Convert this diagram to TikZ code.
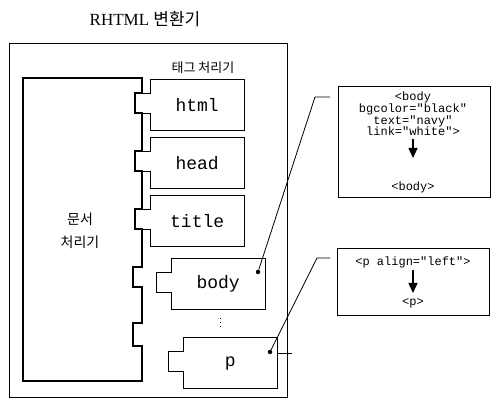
\documentclass[tikz,border=0pt]{standalone}
\usepackage{fontspec}
\setmainfont{Liberation Serif}
\setmonofont{Liberation Mono}
\newfontfamily\kofont{Noto Sans CJK KR}
\usetikzlibrary{arrows.meta,positioning,calc}

% one tag processor: box with a tab on its left side
\newcommand{\tagoutline}[1]{%
  \draw[tagline] ([yshift=-14pt]#1.north west) -- ++(-15pt,0) -- ++(0,-20pt) -- ++(15pt,0)
    -- (#1.south west) -- (#1.south east) -- (#1.north east) -- (#1.north west) -- cycle;}

\begin{document}
\begin{tikzpicture}[
  x=1pt, y=-1pt,
  tagbox/.style={minimum width=94pt, minimum height=50pt, inner sep=0pt, anchor=north west,
    font=\ttfamily\fontsize{18}{18}\selectfont},
  tagline/.style={line width=1pt},
  note/.style={draw, line width=1pt, minimum width=152pt, anchor=north west, inner sep=0pt},
  code/.style={font=\ttfamily\fontsize{12}{11.6}\selectfont, align=center, inner sep=0pt},
  ko/.style={font=\kofont\fontsize{13}{16}\selectfont},
  pin/.style={fill, circle, inner sep=0pt, minimum size=4.5pt},
  convert/.style={line width=1.3pt, -{Triangle[width=9pt,length=10pt]}},
  leader/.style={line width=0.8pt}
]
\useasboundingbox (0,0) rectangle (491,398);

% title and the converter frame
\node[font=\fontsize{17}{17}\selectfont] (title) at (145,19) {RHTML {\kofont 변환기}};
\draw[line width=0.9pt] (9,43) rectangle (287,397);
\node[ko] (taglabel) at (203,68) {태그 처리기};

% document processor with its sockets
\draw[line width=1.4pt] (142,78) -- (23,78) -- (23,381) -- (142,381)
  -- (142,346) -- (133,346) -- (133,323) -- (142,323)
  -- (142,287) -- (133,287) -- (133,267) -- (142,267)
  -- (142,229) -- (135,229) -- (135,209) -- (142,209)
  -- (142,171) -- (135,171) -- (135,151) -- (142,151)
  -- (142,113) -- (135,113) -- (135,93) -- (142,93) -- cycle;
\node[ko, align=center, font=\kofont\fontsize{14}{23}\selectfont] (docproc) at (80,231) {문서\\처리기};

% tag processors
\node[tagbox] (html) at (150,80) {html};
\node[tagbox] (head) at (150,138) {head};
\node[tagbox] (ttl) at (150,196) {title};
\node[tagbox] (body) at (171,259) {body};
\node[tagbox] (para) at (183,338) {p};
\tagoutline{html}
\tagoutline{head}
\tagoutline{ttl}
\tagoutline{body}
\tagoutline{para}
\draw[line width=1pt, dash pattern=on 1pt off 3pt] (220,318) -- (220,330);

% conversion notes
\node[note, minimum height=111pt] (bodynote) at (338,86) {};
\node[code] (bodyold) at (413,114) {<body\\bgcolor="black"\\text="navy"\\link="white">};
\node[code] (bodynew) at (413,187) {<body>};
\coordinate (bodytip) at (413,158);
\draw[convert, shorten <=3pt] (bodyold.south) -- (bodytip);

\node[note, minimum height=67pt] (paranote) at (337,248) {};
\node[code] (paraold) at (413,262) {<p align="left">};
\node[code] (paranew) at (413,303) {<p>};
\coordinate (paratip) at (413,293);
\draw[convert, shorten <=2pt] (paraold.south) -- (paratip);

% leaders from the processors to the notes
\node[pin] (bodydot) at (258,272) {};
\node[pin] (paradot) at (270,352) {};
\coordinate (bodybend) at (315,97);
\coordinate (bodyend) at (330,97);
\coordinate (parabend) at (317,258);
\coordinate (paraend) at (330,258);
\coordinate (parastub) at (292,353);
\draw[leader] (bodydot) -- (bodybend) -- (bodyend);
\draw[leader] (paradot) -- (parabend) -- (paraend);
\draw[leader] (para.east |- parastub) -- (parastub);
\end{tikzpicture}
\end{document}
